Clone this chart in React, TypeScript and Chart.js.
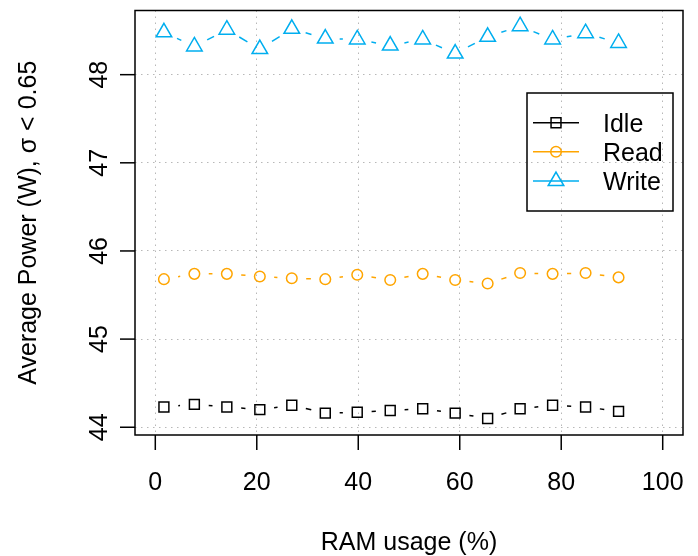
import React, { useEffect, useRef } from 'react';
import { Chart, registerables } from 'chart.js';

Chart.register(...registerables);

// ---- data ----
const ramUsage = [1.7, 7.7, 14.1, 20.6, 26.9, 33.5, 39.8, 46.3, 52.7, 59.1, 65.5, 71.9, 78.3, 84.8, 91.3];
const idlePower = [44.23, 44.26, 44.23, 44.2, 44.25, 44.16, 44.17, 44.19, 44.21, 44.16, 44.1, 44.21, 44.25, 44.23, 44.18];
const readPower = [45.68, 45.74, 45.74, 45.71, 45.69, 45.68, 45.73, 45.67, 45.74, 45.67, 45.63, 45.75, 45.74, 45.75, 45.7];
const writePower = [48.48, 48.32, 48.51, 48.29, 48.52, 48.41, 48.4, 48.33, 48.4, 48.24, 48.43, 48.55, 48.4, 48.47, 48.36];
const seriesNames = ['Idle', 'Read', 'Write'];
const xTicks = [0, 20, 40, 60, 80, 100];
const yTicks = [44, 45, 46, 47, 48];
const xTitle = 'RAM usage (%)';
const yTitle = 'Average Power (W), σ < 0.65';

const COLORS = ['#000000', '#FFA500', '#00AEEF'];
const STYLES = ['rect', 'circle', 'triangle'];
const RADII = [7, 5.3, 9];
const FONT = '25px "Liberation Sans", Arial, Helvetica, sans-serif';
const GAP = 14.4; // R type="b" gap around points

function segDash(ctx: any) {
  const p0 = ctx.p0, p1 = ctx.p1;
  const L = Math.hypot(p1.x - p0.x, p1.y - p0.y);
  if (L <= 2 * GAP) return [0, L + 1000];
  return [0, GAP, L - 2 * GAP, L + GAP + 1000];
}

function drawMarker(c: CanvasRenderingContext2D, style: string, x: number, y: number, r: number) {
  c.beginPath();
  if (style === 'rect') {
    const s = Math.SQRT1_2 * r;
    c.rect(x - s, y - s, 2 * s, 2 * s);
  } else if (style === 'circle') {
    c.arc(x, y, r, 0, Math.PI * 2);
  } else {
    c.moveTo(x, y - r);
    c.lineTo(x + r * Math.sin((2 * Math.PI) / 3), y - r * Math.cos((2 * Math.PI) / 3));
    c.lineTo(x + r * Math.sin((4 * Math.PI) / 3), y - r * Math.cos((4 * Math.PI) / 3));
    c.closePath();
  }
  c.stroke();
}

const rPlot = {
  id: 'rPlot',
  afterDraw(chart: any) {
    const { ctx, chartArea: a, scales } = chart;
    const xs = scales.x, ys = scales.y;
    ctx.save();
    ctx.setLineDash([]);
    ctx.strokeStyle = '#000';
    ctx.fillStyle = '#000';
    ctx.lineWidth = 1.5;
    ctx.strokeRect(a.left, a.top, a.right - a.left, a.bottom - a.top);
    ctx.font = FONT;
    ctx.textAlign = 'center';
    ctx.textBaseline = 'alphabetic';
    xTicks.forEach((v) => {
      const px = xs.getPixelForValue(v);
      ctx.beginPath();
      ctx.moveTo(px, a.bottom);
      ctx.lineTo(px, a.bottom + 15);
      ctx.stroke();
      ctx.fillText(String(v), px, a.bottom + 55);
    });
    yTicks.forEach((v) => {
      const py = ys.getPixelForValue(v);
      ctx.beginPath();
      ctx.moveTo(a.left - 15, py);
      ctx.lineTo(a.left, py);
      ctx.stroke();
      ctx.save();
      ctx.translate(a.left - 28, py);
      ctx.rotate(-Math.PI / 2);
      ctx.fillText(String(v), 0, 0);
      ctx.restore();
    });
    ctx.fillText(xTitle, (a.left + a.right) / 2, 550);
    ctx.save();
    ctx.translate(36, (a.top + a.bottom) / 2);
    ctx.rotate(-Math.PI / 2);
    ctx.fillText(yTitle, 0, 0);
    ctx.restore();

    // legend
    const lx = 527, ly = 93, lw = 146, lh = 118;
    ctx.strokeStyle = '#000';
    ctx.lineWidth = 1.5;
    ctx.strokeRect(lx, ly, lw, lh);
    const rowY = [122.7, 151.7, 181];
    ctx.textAlign = 'left';
    seriesNames.forEach((name, i) => {
      const y = rowY[i];
      ctx.strokeStyle = COLORS[i];
      ctx.lineWidth = 1.5;
      ctx.beginPath();
      ctx.moveTo(533, y);
      ctx.lineTo(579, y);
      ctx.stroke();
      drawMarker(ctx, STYLES[i], 556, y, RADII[i]);
      ctx.fillStyle = '#000';
      ctx.fillText(name, 603, y + 9);
    });
    ctx.restore();
  },
};

export default function App() {
  const ref = useRef<HTMLCanvasElement | null>(null);
  useEffect(() => {
    if (!ref.current) return;
    const series = [idlePower, readPower, writePower];
    const chart = new Chart(ref.current, {
      type: 'line',
      data: {
        datasets: series.map((vals, i) => ({
          label: seriesNames[i],
          data: ramUsage.map((x, j) => ({ x, y: vals[j] })),
          borderColor: COLORS[i],
          backgroundColor: COLORS[i],
          borderWidth: 1.5,
          borderCapStyle: 'butt' as const,
          tension: 0,
          fill: false,
          pointStyle: STYLES[i] as any,
          pointRadius: RADII[i],
          pointBorderWidth: 1.5,
          pointBorderColor: COLORS[i],
          pointBackgroundColor: 'rgba(0,0,0,0)',
          segment: { borderDash: segDash },
        })),
      },
      options: {
        responsive: false,
        devicePixelRatio: 1,
        animation: false,
        events: [],
        layout: { padding: { left: 135, right: 15, top: 7, bottom: 121 } },
        plugins: { legend: { display: false }, tooltip: { enabled: false } },
        scales: {
          x: {
            type: 'linear',
            min: -4,
            max: 104,
            afterBuildTicks: (s: any) => { s.ticks = xTicks.map((v) => ({ value: v })); },
            afterFit: (s: any) => { s.height = 0; },
            ticks: { display: false },
            grid: { color: '#b8b8b8', lineWidth: 1, drawTicks: false },
            border: { display: false, dash: [1.5, 4.5] },
          },
          y: {
            type: 'linear',
            min: 43.912,
            max: 48.728,
            afterBuildTicks: (s: any) => { s.ticks = yTicks.map((v) => ({ value: v })); },
            afterFit: (s: any) => { s.width = 0; },
            ticks: { display: false },
            grid: { color: '#b8b8b8', lineWidth: 1, drawTicks: false },
            border: { display: false, dash: [1.5, 4.5] },
          },
        },
      },
      plugins: [rPlot],
    });
    return () => chart.destroy();
  }, []);
  return (
    <div style={{ position: 'absolute', left: 0, top: 0, width: 698, height: 556, background: '#fff' }}>
      <canvas ref={ref} width={698} height={556} style={{ display: 'block' }} />
    </div>
  );
}
